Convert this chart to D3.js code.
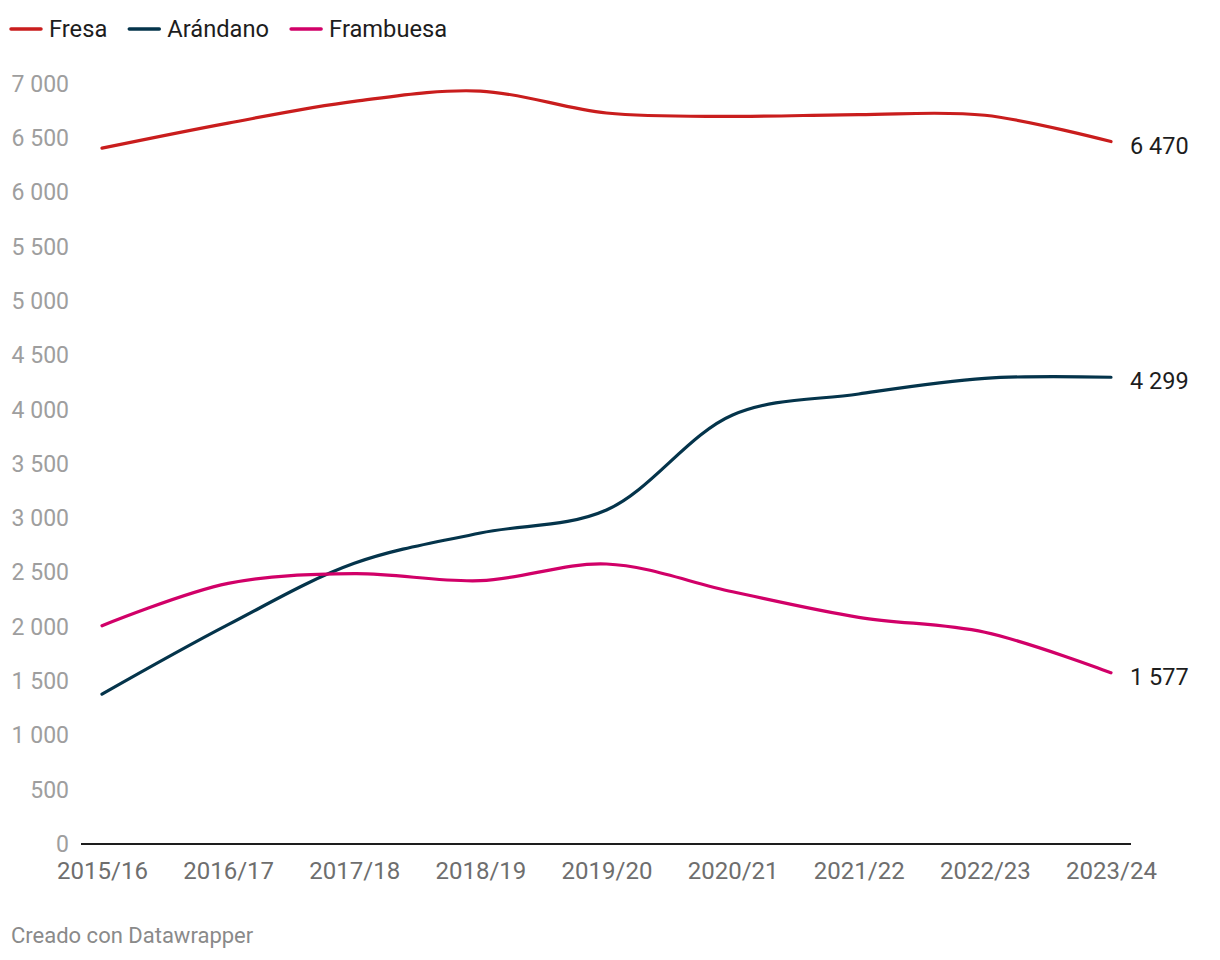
<!DOCTYPE html>
<html>
<head>
<meta charset="utf-8">
<script src="https://cdn.jsdelivr.net/npm/d3@7"></script>
<style>
  html, body { margin: 0; padding: 0; background: #fff; }
  svg { display: block; font-family: Roboto, "Noto Sans", sans-serif; }
</style>
</head>
<body>
<svg id="chart" width="1220" height="960"></svg>
<script>
const categories = ["2015/16", "2016/17", "2017/18", "2018/19", "2019/20", "2020/21", "2021/22", "2022/23", "2023/24"];
const seriesNames = ["Fresa", "Arándano", "Frambuesa"];
const fresa     = [6409, 6640, 6840, 6935, 6733, 6702, 6718, 6712, 6470];
const arandano  = [1380, 2020, 2585, 2864, 3076, 3951, 4145, 4289, 4299];
const frambuesa = [2010, 2400, 2490, 2425, 2579, 2323, 2088, 1950, 1577];
const colors = ["#c91d1d", "#04344b", "#d10068"];
const yTicks = [0, 500, 1000, 1500, 2000, 2500, 3000, 3500, 4000, 4500, 5000, 5500, 6000, 6500, 7000];

const series = [fresa, arandano, frambuesa];
const locale = d3.formatLocale({ decimal: ",", thousands: " ", grouping: [3], currency: ["", "€"] });
const fmt = locale.format(",d");

const svg = d3.select("#chart");
const x = d3.scalePoint().domain(categories).range([102, 1111]);
const y = d3.scaleLinear().domain([0, 7000]).range([844, 84]);

// Y axis
const yAxis = svg.append("g")
  .attr("transform", "translate(81,0)")
  .call(d3.axisLeft(y).tickValues(yTicks).tickSize(0).tickPadding(12).tickFormat(fmt));
yAxis.select(".domain").remove();
yAxis.selectAll("text")
  .attr("fill", "#9e9e9e")
  .style("font-size", "23px")
  .style("font-family", "Roboto, sans-serif");

// X axis
const xAxis = svg.append("g")
  .attr("transform", "translate(0,844)")
  .call(d3.axisBottom(x).tickSize(0).tickPadding(18));
xAxis.select(".domain").remove();
xAxis.selectAll("text")
  .attr("fill", "#6e6e6e")
  .style("font-size", "24px")
  .style("font-family", "Roboto, sans-serif");

// baseline
svg.append("line")
  .attr("x1", 81).attr("x2", 1131)
  .attr("y1", y(0)).attr("y2", y(0))
  .attr("stroke", "#1d1d1d").attr("stroke-width", 2);

// lines
const line = d3.line()
  .x((d, i) => x(categories[i]))
  .y(d => y(d))
  .curve(d3.curveCatmullRom.alpha(0.5));

series.forEach((s, k) => {
  svg.append("path")
    .datum(s)
    .attr("d", line)
    .attr("fill", "none")
    .attr("stroke", colors[k])
    .attr("stroke-width", 3.2)
    .attr("stroke-linecap", "round")
    .attr("stroke-linejoin", "round");
  const last = s[s.length - 1];
  svg.append("text")
    .attr("x", x(categories[categories.length - 1]) + 19)
    .attr("y", y(last) + 12)
    .attr("fill", "#1d1d1d")
    .style("font-size", "23.5px")
    .text(fmt(last));
});

// legend
let lx = 11;
seriesNames.forEach((name, k) => {
  svg.append("line")
    .attr("x1", lx).attr("x2", lx + 30)
    .attr("y1", 29).attr("y2", 29)
    .attr("stroke", colors[k]).attr("stroke-width", 3.5)
    .attr("stroke-linecap", "round");
  const t = svg.append("text")
    .attr("x", lx + 38).attr("y", 37)
    .attr("fill", "#1d1d1d")
    .style("font-size", "23.7px")
    .text(name);
  lx = lx + 38 + t.node().getComputedTextLength() + 22;
});

// footer
svg.append("text")
  .attr("x", 11).attr("y", 943)
  .attr("fill", "#8a8a8a")
  .style("font-size", "22px")
  .text("Creado con Datawrapper");
</script>
</body>
</html>
